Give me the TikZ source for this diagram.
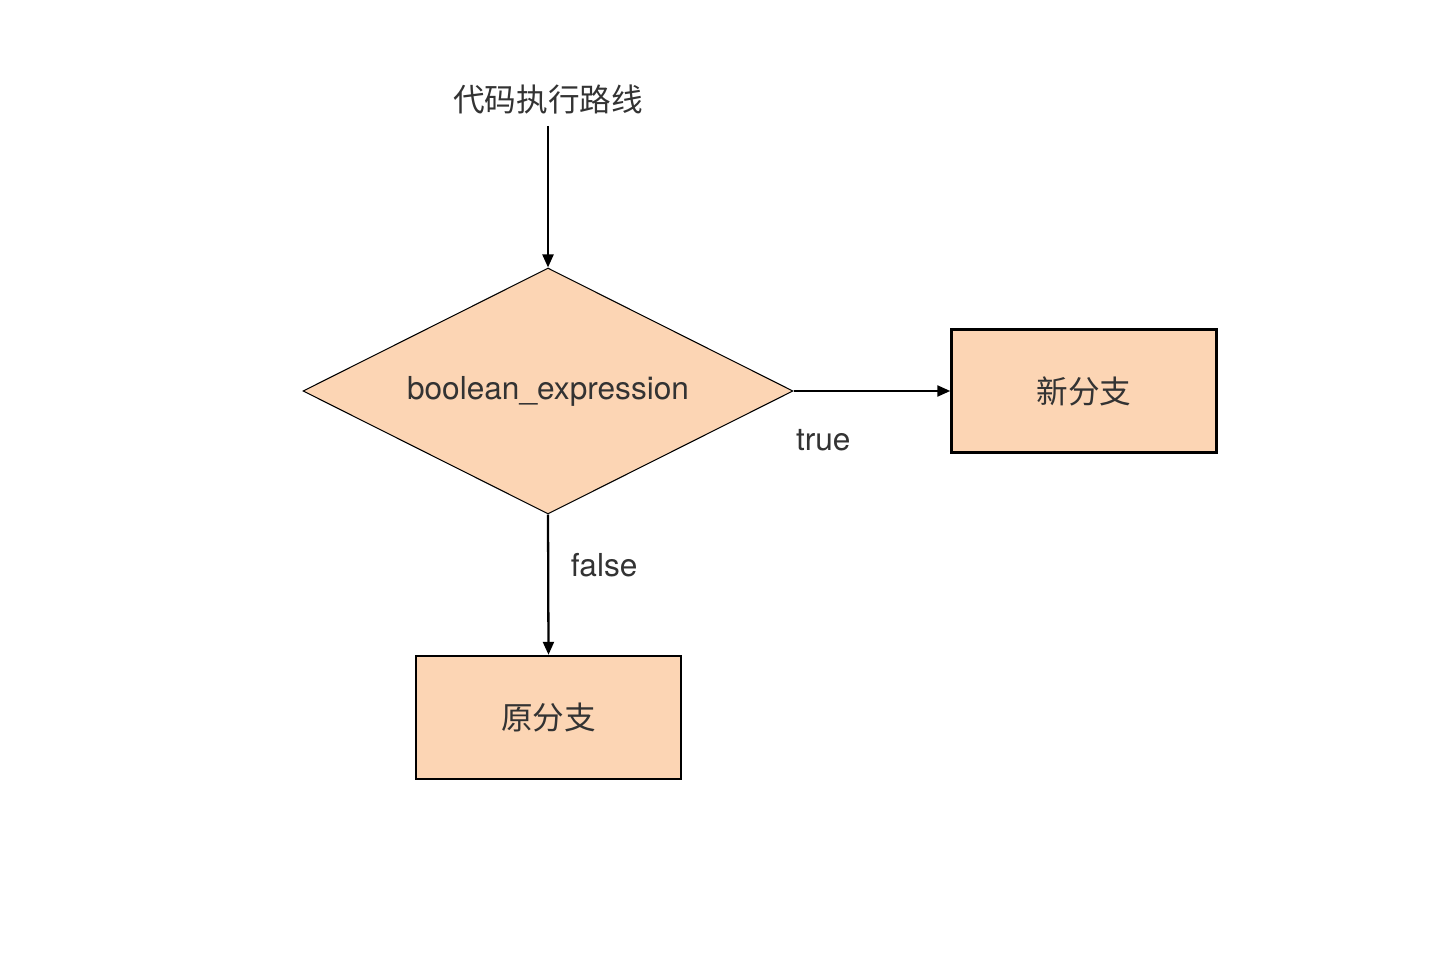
\documentclass[tikz,border=0pt]{standalone}
\usepackage{fontspec}
\setmainfont{TeX Gyre Heros}
\newfontfamily\cjk{Noto Sans CJK SC}
\usepackage{tikz}
\usetikzlibrary{arrows.meta, shapes.geometric}
\definecolor{peach}{RGB}{252,213,180}
\definecolor{inkgray}{RGB}{51,51,51}

\begin{document}
\begin{tikzpicture}[
    font=\fontsize{18}{22}\selectfont,
    txt/.style={text=inkgray},
    branchbox/.style={draw=black, line width=1.4pt, fill=peach, txt,
      minimum width=5.3cm, minimum height=2.46cm, inner sep=0pt},
    decision/.style={diamond, aspect=2, draw=black, line width=0.6pt, fill=peach, txt,
      minimum width=9.8cm, minimum height=4.92cm, inner sep=0pt},
    flow/.style={-{Triangle[length=0.26cm, width=0.22cm]}, line width=1.3pt}
  ]
    \useasboundingbox (0, 0) rectangle (28.96, 19.16);
    \node[txt] (path) at (10.96, 17.16){\cjk 代码执行路线};
    \node[decision] (cond) at (10.96, 11.34){boolean\_expression};
    \node[branchbox] (newb) at (21.68, 11.34){\cjk 新分支};
    \node[branchbox] (origb) at (10.97, 4.81){\cjk 原分支};
    \draw[flow, shorten <=0.1cm] (path)--(cond);
    \draw[flow] (cond.east)--(newb.west) node (truel) [pos=0.19, yshift=-0.98cm, txt]{true};
    \draw[flow] (cond.south)--(origb.north) node (falsel) [pos=0.36, xshift=1.12cm, txt]{false};
  \end{tikzpicture}
\end{document}
